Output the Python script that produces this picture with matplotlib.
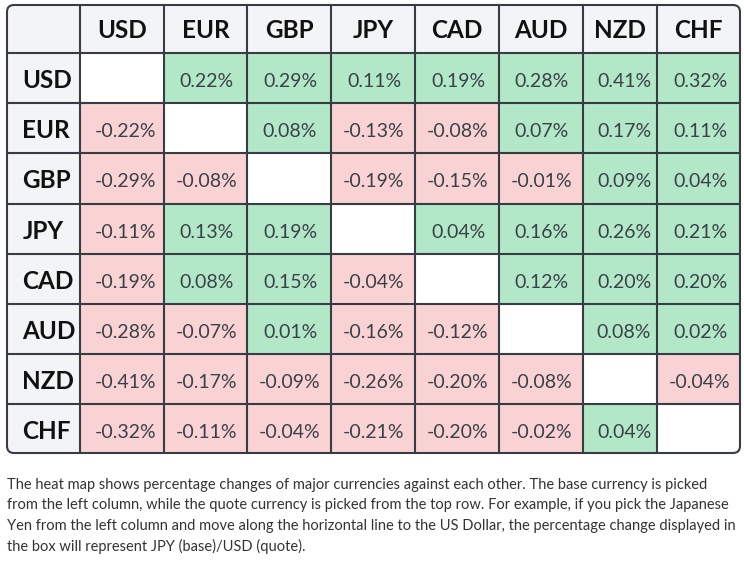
import matplotlib
matplotlib.use("Agg")
import matplotlib.pyplot as plt
from matplotlib.patches import Rectangle, FancyBboxPatch

# currencies and % changes (row = base, column = quote)
currencies = ["USD", "EUR", "GBP", "JPY", "CAD", "AUD", "NZD", "CHF"]
usd = [None, 0.22, 0.29, 0.11, 0.19, 0.28, 0.41, 0.32]
eur = [-0.22, None, 0.08, -0.13, -0.08, 0.07, 0.17, 0.11]
gbp = [-0.29, -0.08, None, -0.19, -0.15, -0.01, 0.09, 0.04]
jpy = [-0.11, 0.13, 0.19, None, 0.04, 0.16, 0.26, 0.21]
cad = [-0.19, 0.08, 0.15, -0.04, None, 0.12, 0.20, 0.20]
aud = [-0.28, -0.07, 0.01, -0.16, -0.12, None, 0.08, 0.02]
nzd = [-0.41, -0.17, -0.09, -0.26, -0.20, -0.08, None, -0.04]
chf = [-0.32, -0.11, -0.04, -0.21, -0.20, -0.02, 0.04, None]
values = [usd, eur, gbp, jpy, cad, aud, nzd, chf]

caption = [
    "The heat map shows percentage changes of major currencies against each other. The base currency is picked",
    "from the left column, while the quote currency is picked from the top row. For example, if you pick the Japanese",
    "Yen from the left column and move along the horizontal line to the US Dollar, the percentage change displayed in",
    "the box will represent JPY (base)/USD (quote).",
]

# layout (pixels)
col_edges = [7, 80, 164, 247, 331, 415, 499, 583, 657, 740]
row_edges = [5, 53, 103, 153, 204, 254, 304, 354, 404, 453]
val_shift = [4, 1, 1, 1, 1, 0.5, 4, 1.5]

GREEN = "#b2e8c8"
PINK = "#f9d2d3"
HEAD = "#f3f4f6"
LINE = "#383d45"

plt.rcParams['font.family'] = ['Lato', 'DejaVu Sans']

fig = plt.figure(figsize=(7.44, 5.62), dpi=100)
ax = fig.add_axes([0, 0, 1, 1])
ax.set_xlim(0, 744)
ax.set_ylim(562, 0)
ax.axis("off")

x0, x1 = col_edges[0], col_edges[-1]
y0, y1 = row_edges[0], row_edges[-1]
outline = FancyBboxPatch((x0, y0), x1 - x0, y1 - y0,
                         boxstyle="round,pad=0,rounding_size=7",
                         facecolor="none", edgecolor=LINE, lw=1.5,
                         transform=ax.transData, zorder=5)

def cell(c, r, color):
    rect = Rectangle((col_edges[c], row_edges[r]),
                     col_edges[c + 1] - col_edges[c], row_edges[r + 1] - row_edges[r],
                     facecolor=color, edgecolor="none", zorder=1)
    ax.add_patch(rect)
    rect.set_clip_path(outline)

# header row / column
for c in range(9):
    cell(c, 0, HEAD)
for r in range(1, 9):
    cell(0, r, HEAD)

for i, name in enumerate(currencies):
    xc = (col_edges[i + 1] + col_edges[i + 2]) / 2
    ax.text(xc, row_edges[0] + 33, name, ha="center", va="baseline",
            fontsize=17.5, fontweight="bold", color="#111111", zorder=6)
    ax.text(22.5, row_edges[i + 1] + 35, name, ha="left", va="baseline",
            fontsize=17.5, fontweight="bold", color="#111111", zorder=6)

for r, row in enumerate(values):
    for c, v in enumerate(row):
        if v is None:
            cell(c + 1, r + 1, "white")
            continue
        cell(c + 1, r + 1, GREEN if v > 0 else PINK)
        xc = (col_edges[c + 1] + col_edges[c + 2]) / 2 + val_shift[c]
        ax.text(xc, row_edges[r + 1] + 34, f"{v:.2f}%", ha="center", va="baseline",
                fontsize=14, color="#3b4148", zorder=6)

# grid lines
for x in col_edges[1:-1]:
    ln, = ax.plot([x, x], [y0, y1], color=LINE, lw=1.5, zorder=4)
    ln.set_clip_path(outline)
for y in row_edges[1:-1]:
    ln, = ax.plot([x0, x1], [y, y], color=LINE, lw=1.5, zorder=4)
    ln.set_clip_path(outline)
ax.add_patch(outline)

for k, line in enumerate(caption):
    ax.text(7, 489 + k * 20.5, line, ha="left", va="baseline",
            fontsize=10.5, color="#333333")

fig.savefig("out.png", dpi=100)
